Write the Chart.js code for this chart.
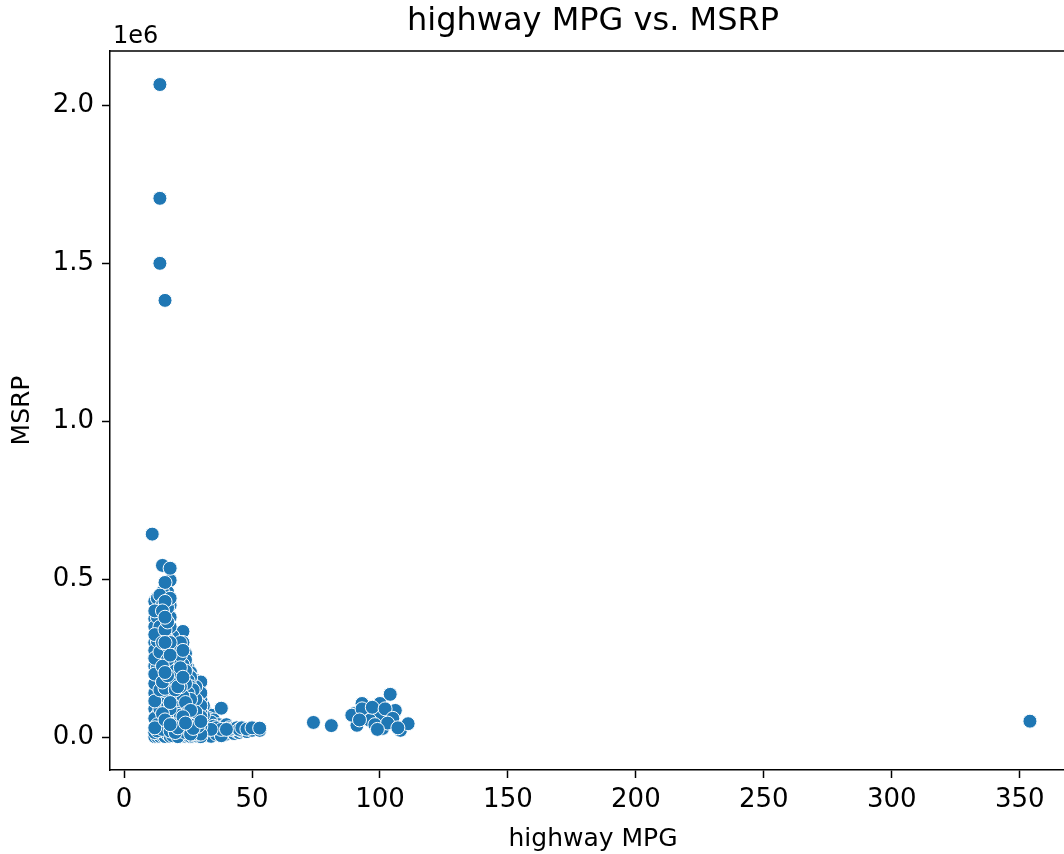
<!DOCTYPE html>
<html><head><meta charset="utf-8">
<script src="https://cdn.jsdelivr.net/npm/chart.js@4.4.1/dist/chart.umd.min.js"></script>
<style>html,body{margin:0;padding:0;background:#fff;overflow:hidden}#wrap{width:1090px;height:854px}</style>
</head><body><div id="wrap"><canvas id="c" width="1090" height="854"></canvas></div>
<script>
const chartTitle = 'highway MPG vs. MSRP';
const xLabel = 'highway MPG';
const yLabel = 'MSRP';
const yOffsetText = '1e6';
const xTicks = [0, 50, 100, 150, 200, 250, 300, 350];
const yTicks = [0, 500000, 1000000, 1500000, 2000000];

// main cluster: highway MPG columns and the MSRP values read in each column
const mpgColumns = [12, 13, 14, 15, 16, 17, 18, 19, 20, 21, 22, 23, 24, 25, 26, 27, 28, 29, 30, 31, 32, 33, 34, 35, 36, 37, 38, 39, 40, 41, 42, 43, 44, 45, 46, 48, 50, 53];
const msrpByColumn = [
  [2000, 300000, 90000, 375000, 15000, 225000, 140000, 430000, 60000, 275000, 170000, 30000, 350000, 115000, 250000, 400000, 200000, 325000],
  [160000, 2500, 410000, 70000, 280000, 20000, 355000, 190000, 110000, 440000, 40000, 250000, 330000, 220000, 380000, 305000],
  [240000, 3000, 425000, 120000, 300000, 60000, 375000, 180000, 30000, 450000, 210000, 90000, 325000, 150000, 400000, 270000, 350000],
  [544000, 100000, 5000, 380000, 250000, 150000, 460000, 50000, 325000, 200000, 25000, 420000, 125000, 275000, 75000, 350000, 175000, 400000, 225000, 300000],
  [230000, 470000, 2500, 130000, 360000, 80000, 280000, 490000, 180000, 30000, 400000, 255000, 105000, 320000, 155000, 430000, 55000, 340000, 205000, 380000, 300000],
  [120000, 390000, 10000, 270000, 170000, 460000, 70000, 340000, 220000, 40000, 430000, 145000, 310000, 95000, 410000, 245000, 195000, 365000, 290000],
  [497000, 128000, 3000, 330000, 222000, 418000, 65000, 280000, 535000, 160000, 20000, 380000, 240000, 90000, 440000, 190000, 350000, 40000, 300000, 110000, 260000],
  [110000, 300000, 5000, 230000, 160000, 60000, 280000, 20000, 200000, 135000, 320000, 85000, 255000, 40000, 180000],
  [170000, 5000, 290000, 80000, 230000, 130000, 30000, 305000, 190000, 55000, 250000, 105000, 15000, 270000, 150000, 210000],
  [140000, 300000, 15000, 220000, 75000, 260000, 180000, 2000, 100000, 280000, 50000, 200000, 120000, 240000, 30000, 160000],
  [320000, 120000, 2000, 240000, 48000, 180000, 280000, 95000, 20000, 200000, 140000, 300000, 70000, 260000, 160000, 220000],
  [335000, 90000, 10000, 210000, 150000, 300000, 40000, 170000, 250000, 110000, 25000, 230000, 130000, 275000, 65000, 190000],
  [265000, 60000, 3000, 190000, 130000, 230000, 30000, 150000, 85000, 245000, 15000, 210000, 110000, 170000, 45000],
  [220000, 50000, 5000, 160000, 100000, 200000, 20000, 120000, 65000, 180000, 35000, 140000, 80000],
  [205000, 70000, 2500, 140000, 175000, 22000, 100000, 190000, 45000, 160000, 10000, 120000, 85000],
  [185000, 40000, 3000, 130000, 90000, 165000, 15000, 110000, 60000, 150000, 28000],
  [180000, 25000, 100000, 5000, 140000, 60000, 160000, 12000, 120000, 40000, 80000],
  [150000, 22000, 90000, 3000, 130000, 50000, 110000, 10000, 70000, 35000],
  [175000, 20000, 120000, 2000, 80000, 140000, 35000, 100000, 10000, 65000, 50000],
  [15000, 100000, 40000, 70000],
  [80000, 5000, 50000, 25000],
  [20000, 60000, 40000],
  [70000, 3000, 48000, 25000],
  [15000, 55000, 35000],
  [45000, 10000, 30000],
  [20000, 40000],
  [92000, 5000, 25000],
  [15000, 35000],
  [10000, 40000, 25000],
  [20000, 30000],
  [15000, 25000],
  [12000, 28000],
  [18000, 30000],
  [15000, 25000],
  [20000, 30000],
  [18000, 26000],
  [22000, 30000],
  [22000, 29000]
];

// electric cars cluster
const evMpg =  [90, 91, 93, 94, 100, 100, 104, 106, 108, 111, 101, 96, 89, 93, 97, 102, 105, 98, 103, 107, 92, 99];
const evMsrp = [75000, 38000, 107000, 75000, 107000, 70000, 136000, 85000, 22000, 43000, 28000, 54000, 70000, 90000, 95000, 90000, 60000, 40000, 45000, 30000, 55000, 25000];

// isolated points
const outlierMpg =  [14, 14, 14, 16, 11, 74, 81, 354];
const outlierMsrp = [2065902, 1705769, 1500000, 1382750, 643000, 47000, 37000, 51000];

// interleave columns so the overlap order is mixed, as in the source scatter
const points = [];
const maxLen = Math.max(...msrpByColumn.map(c => c.length));
for (let k = 0; k < maxLen; k++) {
  mpgColumns.forEach((m, i) => { if (k < msrpByColumn[i].length) points.push({x: m, y: msrpByColumn[i][k]}); });
}
evMpg.forEach((m, i) => points.push({x: m, y: evMsrp[i]}));
outlierMpg.forEach((m, i) => points.push({x: m, y: outlierMsrp[i]}));

const FONT = '"DejaVu Sans", sans-serif';
const INK = '#000';

const decor = {
  id: 'decor',
  afterDraw(chart) {
    const {ctx, chartArea: a} = chart;
    ctx.save();
    ctx.strokeStyle = INK; ctx.lineWidth = 1.5;
    ctx.beginPath();
    ctx.moveTo(a.left, a.top); ctx.lineTo(a.right, a.top);
    ctx.moveTo(a.right, a.top); ctx.lineTo(a.right, a.bottom);
    ctx.stroke();
    ctx.fillStyle = INK;
    ctx.font = '32px ' + FONT; ctx.textAlign = 'center'; ctx.textBaseline = 'alphabetic';
    ctx.fillText(chartTitle, (a.left + a.right) / 2, 30);
    ctx.font = '24px ' + FONT; ctx.textAlign = 'left';
    ctx.fillText(yOffsetText, a.left + 3, 43);
    ctx.restore();
  }
};

new Chart(document.getElementById('c'), {
  type: 'scatter',
  data: {datasets: [{
    data: points,
    pointRadius: 7,
    pointHoverRadius: 7,
    pointBackgroundColor: '#1f77b4',
    pointBorderColor: '#ffffff',
    pointBorderWidth: 1
  }]},
  options: {
    responsive: false,
    animation: false,
    devicePixelRatio: 1,
    layout: {padding: {top: 51, right: 14, left: 0, bottom: 0}},
    plugins: {legend: {display: false}, tooltip: {enabled: false}, title: {display: false}},
    scales: {
      x: {
        type: 'linear', min: -5.5, max: 372,
        afterBuildTicks: s => { s.ticks = xTicks.map(v => ({value: v})); },
        afterFit: s => { s.height = 84; },
        ticks: {font: {family: FONT, size: 26}, color: INK, padding: 7, maxRotation: 0},
        grid: {drawOnChartArea: false, drawTicks: true, tickLength: 8, tickWidth: 1.5, tickColor: INK},
        border: {color: INK, width: 1.5},
        title: {display: true, text: xLabel, font: {family: FONT, size: 25}, color: INK, padding: {top: 0, bottom: 0}}
      },
      y: {
        type: 'linear', min: -103500, max: 2172000,
        afterBuildTicks: s => { s.ticks = yTicks.map(v => ({value: v})); },
        afterFit: s => { s.width = 110; },
        ticks: {font: {family: FONT, size: 26}, color: INK, padding: 8, callback: v => (v / 1e6).toFixed(1)},
        grid: {drawOnChartArea: false, drawTicks: true, tickLength: 8, tickWidth: 1.5, tickColor: INK},
        border: {color: INK, width: 1.5},
        title: {display: true, text: yLabel, font: {family: FONT, size: 25}, color: INK, padding: {top: 7, bottom: 0}}
      }
    }
  },
  plugins: [decor]
});
</script>
</body></html>
